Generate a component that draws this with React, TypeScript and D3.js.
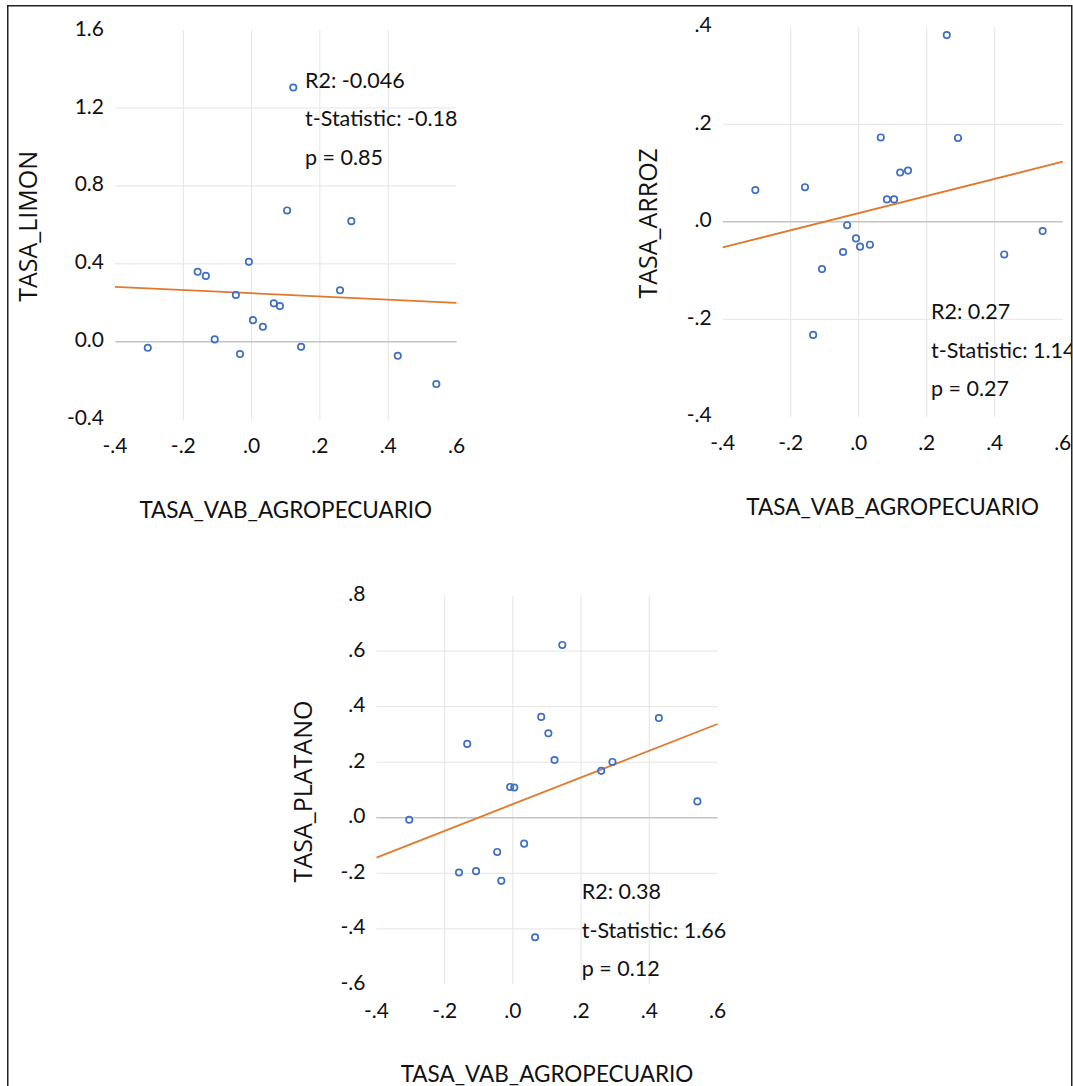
import React from 'react';
import * as d3 from 'd3';

// shared x variable (TASA_VAB_AGROPECUARIO), one entry per observation
const xValues = [-0.304, -0.158, -0.134, -0.108, -0.046, -0.034, -0.008, 0.004, 0.033, 0.065, 0.083, 0.104, 0.122, 0.145, 0.259, 0.292, 0.428, 0.541];

// y variables
const limon = [-0.031, 0.359, 0.338, 0.012, 0.24, -0.063, 0.41, 0.111, 0.077, 0.197, 0.183, 0.674, 1.305, -0.026, 0.264, 0.619, -0.072, -0.217];
const arroz = [0.065, 0.071, -0.232, -0.097, -0.062, -0.007, -0.034, -0.051, -0.047, 0.173, 0.046, 0.046, 0.101, 0.105, 0.383, 0.172, -0.067, -0.019];
const platano = [-0.007, -0.197, 0.266, -0.192, -0.123, -0.227, 0.111, 0.109, -0.093, -0.43, 0.363, 0.304, 0.208, 0.622, 0.169, 0.201, 0.359, 0.059];

// tick values and their labels
const xTicks = [-0.4, -0.2, 0, 0.2, 0.4, 0.6];
const xTickLabels = ['-.4', '-.2', '.0', '.2', '.4', '.6'];
const limonTicks = [-0.4, 0, 0.4, 0.8, 1.2, 1.6];
const limonTickLabels = ['-0.4', '0.0', '0.4', '0.8', '1.2', '1.6'];
const arrozTicks = [-0.4, -0.2, 0, 0.2, 0.4];
const arrozTickLabels = ['-.4', '-.2', '.0', '.2', '.4'];
const platanoTicks = [-0.6, -0.4, -0.2, 0, 0.2, 0.4, 0.6, 0.8];
const platanoTickLabels = ['-.6', '-.4', '-.2', '.0', '.2', '.4', '.6', '.8'];

// regression stats printed on each plot
const limonStats = ['R2: -0.046', 't-Statistic: -0.18', 'p = 0.85'];
const arrozStats = ['R2: 0.27', 't-Statistic: 1.14', 'p = 0.27'];
const platanoStats = ['R2: 0.38', 't-Statistic: 1.66', 'p = 0.12'];

const xTitle = 'TASA_VAB_AGROPECUARIO';

const W = 1073;
const H = 1086;
const TICK_FONT = 'Lato, "Open Sans", sans-serif';
const TITLE_FONT = '"Open Sans", "DejaVu Sans", sans-serif';

// simple least squares fit
function ols(xs, ys) {
  const mx = d3.mean(xs);
  const my = d3.mean(ys);
  let sxy = 0;
  let sxx = 0;
  xs.forEach((x, i) => {
    sxy += (x - mx) * (ys[i] - my);
    sxx += (x - mx) * (x - mx);
  });
  const slope = sxy / sxx;
  return { slope, intercept: my - slope * mx };
}

const panels = [
  {
    id: 'limon',
    title: 'TASA_LIMON',
    ys: limon,
    xRange: [115, 456.5],
    yRange: [419.7, 30],
    yDomain: [-0.4, 1.6],
    yTicks: limonTicks,
    yTickLabels: limonTickLabels,
    yTitleX: 37,
    xTitleY: 518,
    stats: limonStats,
    statsAt: [305, 80],
  },
  {
    id: 'arroz',
    title: 'TASA_ARROZ',
    ys: arroz,
    xRange: [722.7, 1062.7],
    yRange: [416.8, 26.8],
    yDomain: [-0.4, 0.4],
    yTicks: arrozTicks,
    yTickLabels: arrozTickLabels,
    yTitleX: 656.5,
    xTitleY: 515,
    stats: arrozStats,
    statsAt: [931, 311.7],
  },
  {
    id: 'platano',
    title: 'TASA_PLATANO',
    ys: platano,
    xRange: [376.5, 717.5],
    yRange: [984.5, 595.5],
    yDomain: [-0.6, 0.8],
    yTicks: platanoTicks,
    yTickLabels: platanoTickLabels,
    yTitleX: 311.5,
    xTitleY: 1082,
    stats: platanoStats,
    statsAt: [581.7, 891.7],
  },
];

const Panel = ({ p }) => {
  const x = d3.scaleLinear().domain([xTicks[0], xTicks[xTicks.length - 1]]).range(p.xRange);
  const y = d3.scaleLinear().domain(p.yDomain).range(p.yRange);
  const [x0, x1] = p.xRange;
  const [yb, yt] = p.yRange;

  const fit = ols(xValues, p.ys);
  const line = d3
    .line()
    .x((d) => x(d))
    .y((d) => y(fit.intercept + fit.slope * d));

  const innerX = xTicks.slice(1, -1);
  const innerY = p.yTicks.slice(1, -1);

  return (
    <g>
      {/* gridlines, interior ticks only */}
      {innerX.map((t) => (
        <line key={'vx' + t} x1={x(t)} x2={x(t)} y1={yt} y2={yb} stroke="#e4e4e4" strokeWidth={1} />
      ))}
      {innerY.map((t) => (
        <line
          key={'hy' + t}
          x1={x0}
          x2={x1}
          y1={y(t)}
          y2={y(t)}
          stroke={t === 0 ? '#c4c4c4' : '#e4e4e4'}
          strokeWidth={t === 0 ? 1.4 : 1}
        />
      ))}

      {/* y tick labels */}
      {p.yTicks.map((t, i) => (
        <text
          key={'yl' + t}
          x={x0 - 11}
          y={y(t) - 2}
          dy="0.36em"
          textAnchor="end"
          fontFamily={TICK_FONT}
          fontSize={21}
          fill="#111"
        >
          {p.yTickLabels[i]}
        </text>
      ))}

      {/* x tick labels */}
      {xTicks.map((t, i) => (
        <text
          key={'xl' + t}
          x={x(t)}
          y={yb + 33}
          textAnchor="middle"
          fontFamily={TICK_FONT}
          fontSize={21}
          fill="#111"
        >
          {xTickLabels[i]}
        </text>
      ))}

      {/* fitted line */}
      <path d={line([xTicks[0], xTicks[xTicks.length - 1]])} fill="none" stroke="#e07a2e" strokeWidth={1.8} />

      {/* observations */}
      {xValues.map((v, i) => (
        <circle key={i} cx={x(v)} cy={y(p.ys[i])} r={3.2} fill="none" stroke="#3f6fc2" strokeWidth={1.7} />
      ))}

      {/* stats block */}
      {p.stats.map((s, i) => (
        <text
          key={s}
          x={p.statsAt[0]}
          y={p.statsAt[1] + i * 38.4}
          dy="0.36em"
          fontFamily={TICK_FONT}
          fontSize={21.5}
          fill="#111"
        >
          {s}
        </text>
      ))}

      {/* axis titles */}
      <text
        transform={`translate(${p.yTitleX},${(yt + yb) / 2 + 1.5}) rotate(-90)`}
        textAnchor="middle"
        fontFamily={TITLE_FONT}
        fontSize={25}
        fill="#111"
      >
        {p.title}
      </text>
      <text
        x={(x0 + x1) / 2}
        y={p.xTitleY}
        textAnchor="middle"
        fontFamily={TICK_FONT}
        fontSize={22.5}
        fill="#111"
      >
        {xTitle}
      </text>
    </g>
  );
};

export default function App() {
  return (
    <svg
      width={W}
      height={H}
      style={{ position: 'absolute', left: 0, top: 0, background: '#fff' }}
    >
      <defs>
        <clipPath id="frame">
          <rect x={8} y={6} width={1063.5} height={H} />
        </clipPath>
      </defs>
      <rect x={0} y={0} width={W} height={H} fill="#fff" />
      <g clipPath="url(#frame)">
        {panels.map((p) => (
          <Panel key={p.id} p={p} />
        ))}
      </g>
      {/* outer frame: left, top, right */}
      <path d={`M7.75,${H} V5.75 H1071.75 V${H}`} fill="none" stroke="#222" strokeWidth={1.5} />
    </svg>
  );
}
